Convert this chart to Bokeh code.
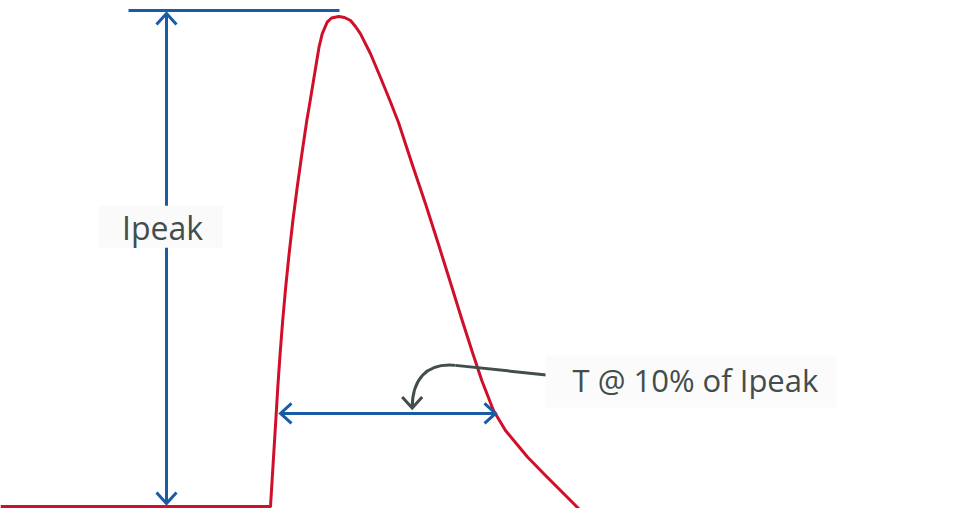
from bokeh.plotting import figure
from bokeh.models import Range1d, Label
from bokeh.embed import file_html
from bokeh.resources import INLINE

# --- data (time in arbitrary units, current in % of Ipeak) ---
pulse_t = [-27.0, 0.0, 0.57, 0.73, 0.96, 1.22, 1.52, 1.86, 2.24, 2.67, 3.14, 3.63, 3.86,
           4.19, 4.52, 4.85, 5.17, 5.67, 6.1, 6.83, 7.4, 8.0, 8.5, 9.0, 10.0, 11.0,
           12.0, 12.8, 14.15, 15.5, 16.78, 17.93, 19.17, 20.24, 21.13, 22.3, 23.5,
           24.33, 25.7, 27.33, 30.33, 31.0]
pulse_i = [0.0, 0.0, 18.92, 24.35, 31.16, 37.96, 44.76, 51.57, 58.37, 65.16, 71.98, 78.78,
           81.49, 85.57, 89.65, 93.73, 96.47, 98.84, 99.69, 100.0, 99.8, 99.18, 97.96,
           96.47, 92.39, 87.55, 82.55, 78.37, 69.94, 61.78, 53.61, 46.12, 37.96, 31.16,
           25.71, 19.59, 15.51, 13.47, 10.10, 6.67, 0.55, -0.82]

peak_line_t = [-14.2, 6.9]
peak_line_i = 101.2
ipeak_arrow_t = -10.4
ipeak_arrow_i = [0.6, 100.6]
width_arrow_t = [1.0, 22.5]
width_arrow_i = 19.0
leader_line_t = [28.3, 18.5]
leader_line_i = [26.7, 28.8]
leader_curve = dict(x0=18.5, y0=28.8, cx0=15.5, cy0=29.4, cx1=14.17, cy1=25.7, x1=14.17, y1=20.1)
labels = ["Ipeak", "T @ 10% of Ipeak"]
label_t = [-10.8, 30.2]
label_i = [56.9, 25.9]
box_t = [-11.0, 42.0]
box_i = [57.1, 25.5]

BLUE = "#1a5ba6"
RED = "#d0102a"
GRAY = "#434d4d"

SX = 10.0    # px per time unit
SY = 4.9     # px per % unit
W, H = 968, 508

p = figure(width=W, height=H, output_backend="svg", toolbar_location=None,
           x_range=Range1d(-27.0, -27.0 + W / SX),
           y_range=Range1d((506 - H) / SY, 506 / SY),
           min_border=0)
p.axis.visible = False
p.grid.visible = False
p.outline_line_color = None
p.background_fill_color = "white"
p.border_fill_color = "white"

# pulse
p.line(pulse_t, pulse_i, line_color=RED, line_width=3, line_join="round")

# peak reference line
p.line(peak_line_t, [peak_line_i, peak_line_i], line_color=BLUE, line_width=3)

# open arrowhead helper (head length / half width in px)
HL, HW = 11.0, 10.0

def head(tx, ty, direction):
    if direction == "up":
        return [[tx - HW / SX, tx, tx + HW / SX], [ty - HL / SY, ty, ty - HL / SY]]
    if direction == "down":
        return [[tx - HW / SX, tx, tx + HW / SX], [ty + HL / SY, ty, ty + HL / SY]]
    if direction == "left":
        return [[tx + HL / SX, tx, tx + HL / SX], [ty + HW / SY, ty, ty - HW / SY]]
    return [[tx - HL / SX, tx, tx - HL / SX], [ty + HW / SY, ty, ty - HW / SY]]

# Ipeak vertical double arrow
p.line([ipeak_arrow_t, ipeak_arrow_t], ipeak_arrow_i, line_color=BLUE, line_width=3)
hs = [head(ipeak_arrow_t, ipeak_arrow_i[1], "up"), head(ipeak_arrow_t, ipeak_arrow_i[0], "down")]
# width arrow
p.line(width_arrow_t, [width_arrow_i, width_arrow_i], line_color=BLUE, line_width=3)
hs += [head(width_arrow_t[0], width_arrow_i, "left"), head(width_arrow_t[1], width_arrow_i, "right")]
p.multi_line([h[0] for h in hs], [h[1] for h in hs], line_color=BLUE, line_width=3,
             line_join="miter")

# leader
p.line(leader_line_t, leader_line_i, line_color=GRAY, line_width=3)
p.bezier(**{k: [v] for k, v in leader_curve.items()}, line_color=GRAY, line_width=3)
lh = head(leader_curve["x1"], leader_curve["y1"], "down")
p.line(lh[0], lh[1], line_color=GRAY, line_width=3, line_join="miter")

# label backgrounds
p.rect(x=box_t[:1], y=box_i[:1], width=124, height=42, width_units="screen",
       height_units="screen", fill_color="#fafafa", line_color=None)
p.rect(x=box_t[1:], y=box_i[1:], width=290, height=52, width_units="screen",
       height_units="screen", fill_color="#fbfbfb", line_color=None)

p.add_layout(Label(x=label_t[0], y=label_i[0], text=labels[0], text_align="center",
                   text_baseline="alphabetic", text_font="Open Sans",
                   text_font_size="32px", text_color=GRAY))
p.add_layout(Label(x=label_t[1], y=label_i[1], text=labels[1], text_align="left",
                   text_baseline="alphabetic", text_font="Open Sans",
                   text_font_size="31px", text_color=GRAY))

open("out.html", "w").write(file_html(p, INLINE))
